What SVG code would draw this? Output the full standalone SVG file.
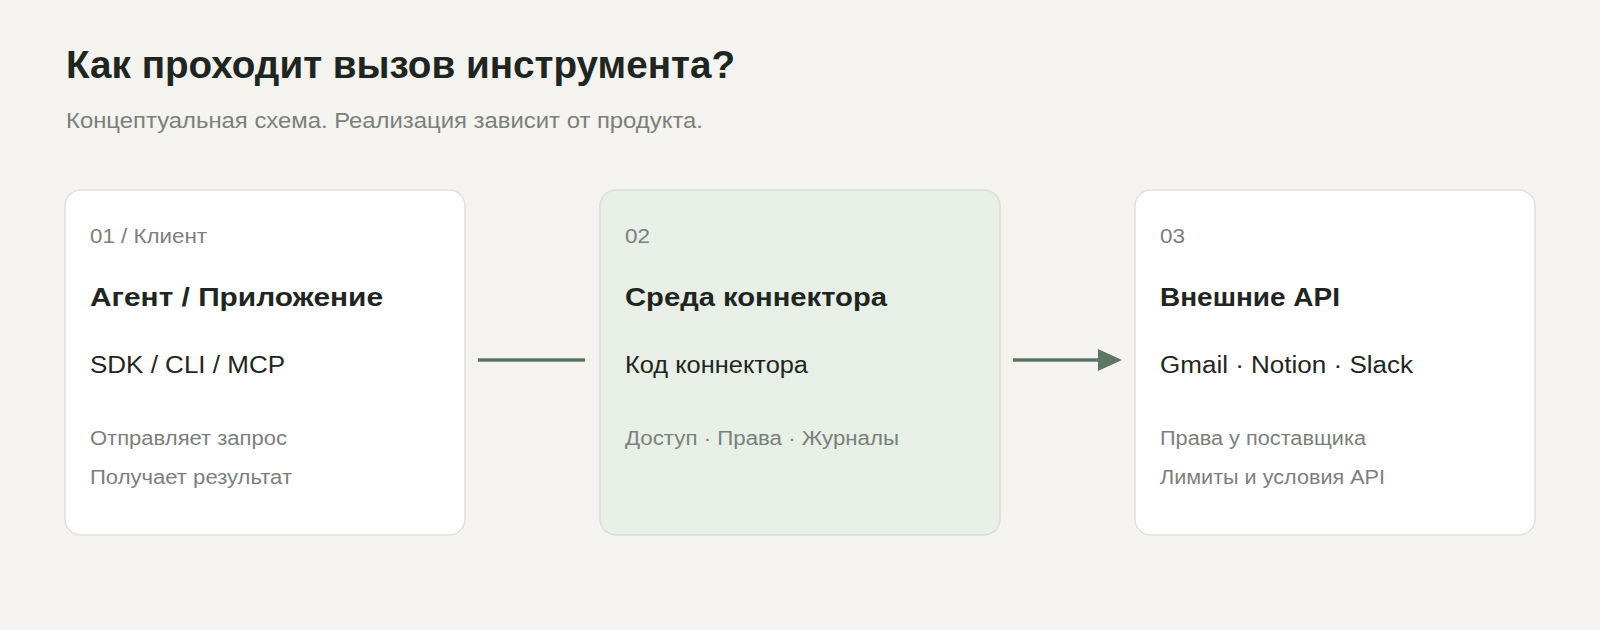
<svg xmlns="http://www.w3.org/2000/svg" width="1600" height="630" viewBox="0 0 1600 630">
  <defs>
    <style>
      .bg { fill: #f4f3ef; }
      .card { fill: #ffffff; stroke: #e0e0da; stroke-width: 1.5; }
      .card-hl { fill: #e7efe7; stroke: #d6e0d5; stroke-width: 1.5; }
      .title { font-family: "Liberation Sans", Arial, sans-serif; font-size: 39px; font-weight: 700; fill: #1f2621; }
      .subtitle { font-family: "Liberation Sans", Arial, sans-serif; font-size: 22.5px; fill: #7b807b; }
      .step { font-family: "Liberation Sans", Arial, sans-serif; font-size: 20px; fill: #7b807b; }
      .name { font-family: "Liberation Sans", Arial, sans-serif; font-size: 26.5px; font-weight: 700; fill: #1f2621; }
      .tech { font-family: "Liberation Sans", Arial, sans-serif; font-size: 23.5px; fill: #1f2621; }
      .note { font-family: "Liberation Sans", Arial, sans-serif; font-size: 20px; fill: #7b807b; }
      .conn { stroke: #5c7666; stroke-width: 3.4; fill: none; }
    </style>
    <marker id="arrow" markerUnits="userSpaceOnUse" markerWidth="24" markerHeight="24" refX="0" refY="12" orient="auto">
      <path d="M0,1 L24,12 L0,23 Z" fill="#5c7666"/>
    </marker>
  </defs>

  <rect class="bg" x="0" y="0" width="1600" height="630"/>

  <g id="header">
    <text class="title" x="66" y="78" textLength="669" lengthAdjust="spacingAndGlyphs">Как проходит вызов инструмента?</text>
    <text class="subtitle" x="66" y="128" textLength="637" lengthAdjust="spacingAndGlyphs">Концептуальная схема. Реализация зависит от продукта.</text>
  </g>

  <g id="connectors">
    <line class="conn" x1="478" y1="360" x2="585" y2="360"/>
    <line class="conn" x1="1013" y1="360" x2="1098" y2="360" marker-end="url(#arrow)"/>
  </g>

  <g id="node-client">
    <rect class="card" x="65" y="190" width="400" height="345" rx="16" ry="16"/>
    <text class="step" x="90" y="243" textLength="117" lengthAdjust="spacingAndGlyphs">01 / Клиент</text>
    <text class="name" x="90" y="306" textLength="293" lengthAdjust="spacingAndGlyphs">Агент / Приложение</text>
    <text class="tech" x="90" y="373" textLength="195" lengthAdjust="spacingAndGlyphs">SDK / CLI / MCP</text>
    <text class="note" x="90" y="445" textLength="197" lengthAdjust="spacingAndGlyphs">Отправляет запрос</text>
    <text class="note" x="90" y="484" textLength="202" lengthAdjust="spacingAndGlyphs">Получает результат</text>
  </g>

  <g id="node-connector">
    <rect class="card-hl" x="600" y="190" width="400" height="345" rx="16" ry="16"/>
    <text class="step" x="625" y="243" textLength="25" lengthAdjust="spacingAndGlyphs">02</text>
    <text class="name" x="625" y="306" textLength="262" lengthAdjust="spacingAndGlyphs">Среда коннектора</text>
    <text class="tech" x="625" y="373" textLength="183" lengthAdjust="spacingAndGlyphs">Код коннектора</text>
    <text class="note" x="625" y="445" textLength="274" lengthAdjust="spacingAndGlyphs">Доступ · Права · Журналы</text>
  </g>

  <g id="node-api">
    <rect class="card" x="1135" y="190" width="400" height="345" rx="16" ry="16"/>
    <text class="step" x="1160" y="243" textLength="25" lengthAdjust="spacingAndGlyphs">03</text>
    <text class="name" x="1160" y="306" textLength="180" lengthAdjust="spacingAndGlyphs">Внешние API</text>
    <text class="tech" x="1160" y="373" textLength="253" lengthAdjust="spacingAndGlyphs">Gmail · Notion · Slack</text>
    <text class="note" x="1160" y="445" textLength="206" lengthAdjust="spacingAndGlyphs">Права у поставщика</text>
    <text class="note" x="1160" y="484" textLength="225" lengthAdjust="spacingAndGlyphs">Лимиты и условия API</text>
  </g>
</svg>
